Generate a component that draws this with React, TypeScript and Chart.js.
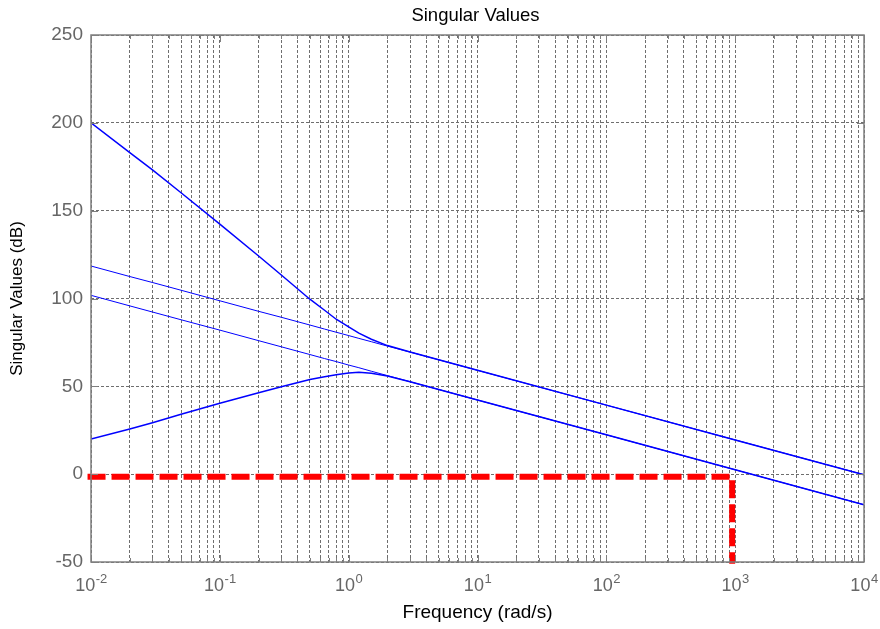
import React, { useEffect, useRef } from "react";
import { Chart, registerables } from "chart.js";

Chart.register(...registerables);

// ---------- data ----------
const FREQ = [0.01, 0.02, 0.03, 0.05, 0.1, 0.2, 0.3, 0.5, 0.65, 0.8, 1, 1.2, 1.5, 2, 3, 5, 10, 100, 1000, 10000];
const SV1 = [200, 183, 173.2, 160.2, 142.3, 124.2, 113.4, 99.6, 93.3, 88.2, 83.8, 80.3, 76.8, 73.2, 69.6, 65.1, 59.1, 39.3, 19.5, -0.3];
const SV2 = [118.5, 112.5, 109.1, 104.7, 98.7, 92.7, 89.3, 84.9, 82.6, 80.8, 78.9, 77.3, 75.4, 72.9, 69.5, 65.1, 59.1, 39.3, 19.5, -0.3];
const SV3 = [101.8, 95.8, 92.3, 87.9, 82.0, 76.0, 72.5, 68.1, 65.8, 64.1, 62.1, 60.6, 58.6, 56.1, 52.6, 48.2, 42.2, 22.4, 2.5, -17.4];
const SV4 = [20, 25.7, 29.3, 34.1, 40.4, 46.3, 49.8, 53.9, 55.5, 56.6, 57.6, 58.0, 57.5, 55.9, 52.6, 48.2, 42.2, 22.4, 2.5, -17.4];
const MARKER_X = [0.0094, 948, 948];
const MARKER_Y = [-1.5, -1.5, -51];

const Y_TICKS = [-50, 0, 50, 100, 150, 200, 250];
const X_DECADES = [0.01, 0.1, 1, 10, 100, 1000, 10000];
const X_EXPONENTS = ["-2", "-1", "0", "1", "2", "3", "4"];
const X_MINOR_MULT = [1, 2, 3, 4, 5, 6, 7, 8, 9];

const TITLE = "Singular Values";
const X_TITLE = "Frequency (rad/s)";
const Y_TITLE = "Singular Values (dB)";

// ---------- style ----------
const FONT = '"Liberation Sans", Arial, sans-serif';
const TICK_COLOR = "#666666";
const GRID_COLOR = "#6e6e6e";
const BOX_COLOR = "#7f7f7f";
const BLUE = "#0000ff";

const X_TICKS: number[] = [];
X_DECADES.forEach((d, i) => {
  if (i < X_DECADES.length - 1) X_MINOR_MULT.forEach((m) => X_TICKS.push(d * m));
  else X_TICKS.push(d);
});

const pts = (xs: number[], ys: number[]) => xs.map((x, i) => ({ x, y: ys[i] }));

const decorPlugin = {
  id: "decor",
  afterDraw(chart: any) {
    const { ctx, chartArea } = chart;
    const { left, right, top, bottom } = chartArea;
    const xs = chart.scales.x;
    const ys = chart.scales.y;
    ctx.save();
    // box
    ctx.strokeStyle = BOX_COLOR;
    ctx.lineWidth = 1.5;
    ctx.strokeRect(left, top, right - left, bottom - top);
    // inner ticks
    ctx.lineWidth = 1;
    ctx.beginPath();
    X_TICKS.forEach((v) => {
      const px = Math.round(xs.getPixelForValue(v)) + 0.5;
      const major = X_DECADES.includes(v);
      const len = major ? 7 : 4;
      ctx.moveTo(px, bottom);
      ctx.lineTo(px, bottom - len);
      ctx.moveTo(px, top);
      ctx.lineTo(px, top + len);
    });
    Y_TICKS.forEach((v) => {
      const py = Math.round(ys.getPixelForValue(v)) + 0.5;
      ctx.moveTo(left, py);
      ctx.lineTo(left + 7, py);
      ctx.moveTo(right, py);
      ctx.lineTo(right - 7, py);
    });
    ctx.stroke();
    // x tick labels 10^n
    ctx.fillStyle = TICK_COLOR;
    ctx.textBaseline = "alphabetic";
    ctx.textAlign = "left";
    X_DECADES.forEach((v, i) => {
      const px = xs.getPixelForValue(v);
      ctx.font = "18px " + FONT;
      const w1 = ctx.measureText("10").width;
      ctx.font = "13px " + FONT;
      const w2 = ctx.measureText(X_EXPONENTS[i]).width;
      const start = px - (w1 + w2) / 2;
      ctx.font = "18px " + FONT;
      ctx.fillText("10", start, bottom + 29);
      ctx.font = "13px " + FONT;
      ctx.fillText(X_EXPONENTS[i], start + w1 + 0.5, bottom + 21);
    });
    // title
    ctx.fillStyle = "#000000";
    ctx.font = "18.5px " + FONT;
    ctx.textAlign = "center";
    ctx.fillText(TITLE, (left + right) / 2 - 2, 21);
    ctx.restore();
  },
};

export default function App() {
  const ref = useRef<HTMLCanvasElement | null>(null);
  useEffect(() => {
    if (!ref.current) return;
    const chart = new Chart(ref.current, {
      type: "line",
      data: {
        datasets: [
          { data: pts(FREQ, SV1), borderColor: BLUE, borderWidth: 1.5, pointRadius: 0, tension: 0 },
          { data: pts(FREQ, SV2), borderColor: BLUE, borderWidth: 1, pointRadius: 0, tension: 0 },
          { data: pts(FREQ, SV3), borderColor: BLUE, borderWidth: 1, pointRadius: 0, tension: 0 },
          { data: pts(FREQ, SV4), borderColor: BLUE, borderWidth: 1.5, pointRadius: 0, tension: 0 },
          { data: pts(MARKER_X, MARKER_Y), borderColor: "#ff0000", borderWidth: 6, borderDash: [18, 6], pointRadius: 0, tension: 0, clip: false as any },
        ],
      } as any,
      options: {
        responsive: false,
        animation: false,
        events: [],
        layout: { padding: { left: 0, right: 16, top: 35, bottom: 0 } },
        plugins: { legend: { display: false }, tooltip: { enabled: false }, title: { display: false } },
        scales: {
          x: {
            type: "logarithmic",
            min: 0.01,
            max: 10000,
            afterBuildTicks: (s: any) => {
              s.ticks = X_TICKS.map((v) => ({ value: v, major: X_DECADES.includes(v) }));
            },
            afterFit: (s: any) => {
              s.height = 67;
            },
            ticks: { display: false },
            grid: { color: GRID_COLOR, lineWidth: 1, drawTicks: false },
            border: { display: false, dash: [3, 2] },
            title: { display: true, text: X_TITLE, color: "#000000", font: { family: FONT, size: 19 }, padding: { top: 0, bottom: 5 } },
          },
          y: {
            type: "linear",
            min: -50,
            max: 250,
            afterBuildTicks: (s: any) => {
              s.ticks = Y_TICKS.map((v) => ({ value: v }));
            },
            afterFit: (s: any) => {
              s.width = 91;
            },
            ticks: { color: TICK_COLOR, font: { family: FONT, size: 19 }, padding: 8 },
            grid: { color: GRID_COLOR, lineWidth: 1, drawTicks: false },
            border: { display: false, dash: [3, 2] },
            title: { display: true, text: Y_TITLE, color: "#000000", font: { family: FONT, size: 17 }, padding: { top: 7, bottom: 0 } },
          },
        },
      } as any,
      plugins: [decorPlugin],
    });
    return () => chart.destroy();
  }, []);
  return (
    <div style={{ position: "absolute", left: 0, top: 0, width: 880, height: 629, background: "#ffffff" }}>
      <canvas ref={ref} width={880} height={629} style={{ display: "block" }} />
    </div>
  );
}
